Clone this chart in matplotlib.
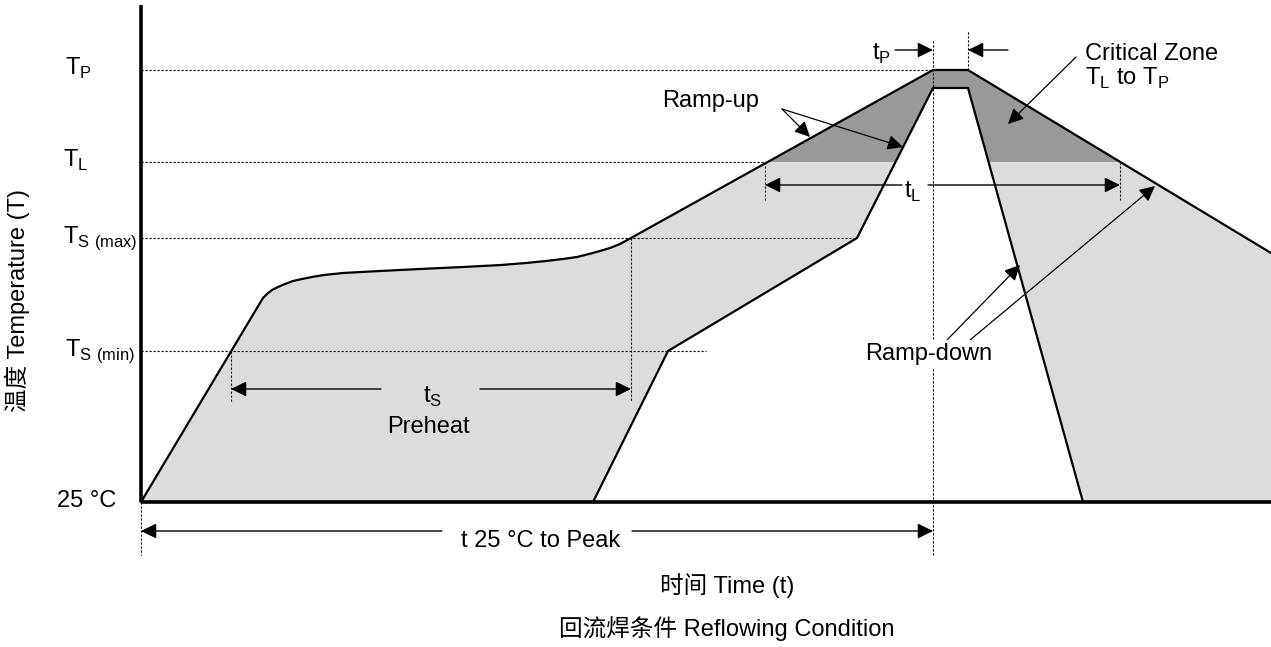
#  Reflow soldering profile diagram

import matplotlib
matplotlib.use('Agg')
import matplotlib.pyplot as plt
from matplotlib.patches import Polygon, Rectangle

plt.rcParams['font.family'] = ['Liberation Sans', 'Noto Sans CJK SC']
plt.rcParams['mathtext.fontset'] = 'custom'
plt.rcParams['mathtext.rm'] = 'Liberation Sans'

#  Temperature levels (height above the 25 °C baseline)
T_peak = 432
T_liq = 340
T_smax = 264
T_smin = 151
T_room = 0
T_top = 497

#  Outer profile (fast / upper curve)
outer_t = [0, 119, 122, 126, 131, 137, 144, 152, 161, 171, 183, 202, 239, 279, 322,
           360, 385, 405, 422, 436, 448, 459, 469, 479, 490, 792, 827, 1130]
outer_T = [0, 199, 204, 208, 212, 215, 218, 221, 223, 225, 227, 229, 231, 233, 235,
           237, 239, 241, 243, 245, 248, 251, 254, 258, 264, 432, 432, 249]

#  Inner profile (slow / lower curve)
inner_t = [452, 527, 716, 792, 827, 942]
inner_T = [0, 151, 264, 414, 414, 0]

#  Key times
t_smin = 90
t_smax = 490
t_l1 = 624
t_l2 = 979
t_p1 = 792
t_p2 = 827
t_end = 1130

#  Level labels
level_names = [r'T$_\mathregular{P}$', r'T$_\mathregular{L}$', r'T$_\mathregular{S\ (max)}$',
               r'T$_\mathregular{S\ (min)}$', '25 °C']
level_vals = [T_peak, T_liq, T_smax, T_smin, T_room]
level_dash_end = [t_p1, t_l1, 716, 565, None]

fig = plt.figure(figsize=(12.71, 6.47), dpi=100)
ax = fig.add_axes([0, 0, 1, 1])
ax.set_xlim(-141, t_end)
ax.set_ylim(-145, 502)
ax.axis('off')

light = '#dcdcdc'
dark = '#999999'
fs = 17
dash = (0, (2.0, 1.6))

#  Filled band between the profiles
band = list(zip(outer_t, outer_T)) + [(t_end, 0)] + list(zip(inner_t, inner_T))[::-1]
ax.add_patch(Polygon(band, closed=True, facecolor=light, edgecolor='none', zorder=1))
crit = Polygon(band, closed=True, facecolor=dark, edgecolor='none', zorder=1.5)
ax.add_patch(crit)
clip = Rectangle((-200, T_liq), 2000, 400, transform=ax.transData)
crit.set_clip_path(clip)

ax.plot(outer_t, outer_T, color='k', lw=1.6, zorder=3)
ax.plot(inner_t, inner_T, color='k', lw=1.6, zorder=3)

#  Axes lines
ax.plot([0, 0], [0, T_top], color='k', lw=2.6, zorder=4, solid_capstyle='butt')
ax.plot([0, t_end], [0, 0], color='k', lw=2.6, zorder=4, solid_capstyle='butt')

#  Dashed guide lines
for v, e in zip(level_vals, level_dash_end):
    if e is not None:
        ax.plot([0, e], [v, v], color='k', lw=0.8, ls=dash, zorder=2)
ax.plot([t_p1, t_p1], [-53, 462], color='k', lw=0.8, ls=dash, zorder=2)
ax.plot([t_p2, t_p2], [T_peak, 472], color='k', lw=0.8, ls=dash, zorder=2)
ax.plot([0, 0], [0, -53], color='k', lw=0.8, ls=dash, zorder=2)
ax.plot([t_smin, t_smin], [T_smin, 100], color='k', lw=0.8, ls=dash, zorder=2)
ax.plot([t_smax, t_smax], [T_smax, 100], color='k', lw=0.8, ls=dash, zorder=2)
ax.plot([t_l1, t_l1], [T_liq, 302], color='k', lw=0.8, ls=dash, zorder=2)
ax.plot([t_l2, t_l2], [T_liq, 302], color='k', lw=0.8, ls=dash, zorder=2)

#  Level labels
level_x = [-76, -78, -78, -76, -84]
for name, v, x in zip(level_names, level_vals, level_x):
    ax.text(x, v - 5, name, fontsize=fs, ha='left', va='baseline')


def arrow(x0, y0, x1, y1, lw=1.0):
    ax.annotate('', xy=(x1, y1), xytext=(x0, y0),
                arrowprops=dict(arrowstyle='-|>,head_length=0.55,head_width=0.27',
                                color='k', lw=lw, shrinkA=0, shrinkB=0,
                                mutation_scale=17), zorder=5)


#  t_P
ax.text(731, 442, r't$_\mathregular{P}$', fontsize=fs, ha='left', va='baseline')
arrow(754, 452, t_p1, 452)
arrow(867, 452, t_p2, 452)

#  t_L
ax.text(763, 304, r't$_\mathregular{L}$', fontsize=fs, ha='left', va='baseline')
arrow(761, 317, t_l1, 317)
arrow(787, 317, t_l2, 317)

#  t_S preheat
ax.text(282, 99, r't$_\mathregular{S}$', fontsize=fs, ha='left', va='baseline')
ax.text(287, 69, 'Preheat', fontsize=fs, ha='center', va='baseline')
arrow(240, 113, t_smin, 113)
arrow(339, 113, t_smax, 113)

#  t 25 °C to Peak
ax.text(400, -45, 't 25 °C to Peak', fontsize=fs, ha='center', va='baseline')
arrow(301, -29, 0, -29)
arrow(491, -29, t_p1, -29)

#  Ramp-up
ax.text(570, 395, 'Ramp-up', fontsize=fs, ha='center', va='baseline')
arrow(641, 393, 669, 365, lw=0.9)
arrow(641, 393, 762, 355, lw=0.9)

#  Critical zone
ax.text(944, 442, 'Critical Zone', fontsize=fs, ha='left', va='baseline')
ax.text(944, 417, r'T$_\mathregular{L}$ to T$_\mathregular{P}$', fontsize=fs,
        ha='left', va='baseline')
arrow(935, 445, 867, 378, lw=0.9)

#  Ramp-down
ax.text(788, 142, 'Ramp-down', fontsize=fs, ha='center', va='baseline', zorder=6,
        bbox=dict(facecolor='white', edgecolor='none', pad=2))
arrow(806, 162, 879, 237, lw=0.9)
arrow(829, 162, 1014, 316, lw=0.9)

#  Axis titles
ax.text(-124, 202, '温度 Temperature (T)', fontsize=fs, rotation=90, ha='center', va='center')
ax.text(586, -84, '时间 Time (t)', fontsize=fs, ha='center', va='center')
ax.text(586, -127, '回流焊条件 Reflowing Condition', fontsize=fs, ha='center', va='center')

plt.savefig('out.png', dpi=100)
